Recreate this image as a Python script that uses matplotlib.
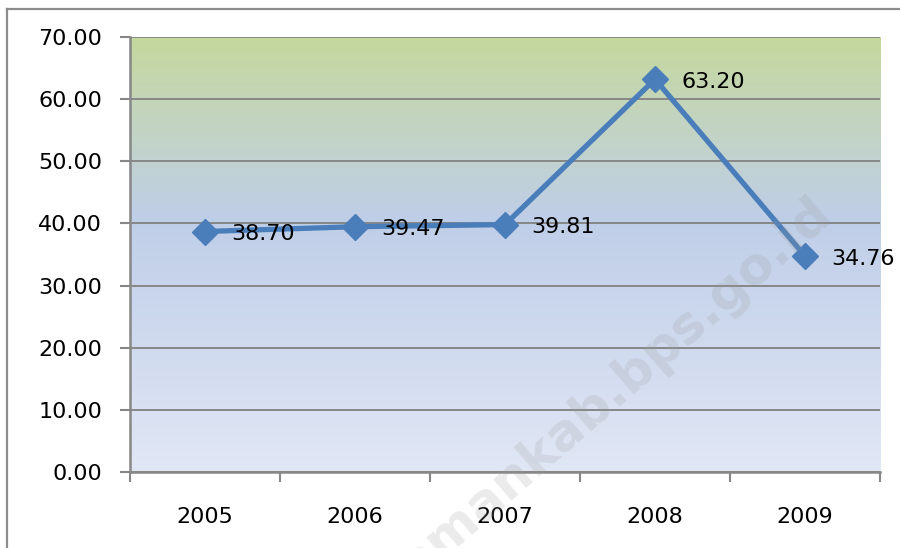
import numpy as np
import matplotlib.pyplot as plt
from matplotlib.colors import LinearSegmentedColormap
from matplotlib.lines import Line2D

years = ['2005', '2006', '2007', '2008', '2009']
values = [38.70, 39.47, 39.81, 63.20, 34.76]
labels = ['38.70', '39.47', '39.81', '63.20', '34.76']
y_ticks = [0, 10, 20, 30, 40, 50, 60, 70]

plt.rcParams['font.family'] = ['DejaVu Sans']

fig = plt.figure(figsize=(9, 5.48), dpi=100)
ax = fig.add_axes([130 / 900, 1 - 472 / 548, 750 / 900, 435 / 548])

# gradient background of the plot area
grad = LinearSegmentedColormap.from_list(
    'bg', [(0.0, '#e1e7f5'), (0.58, '#bfcee8'), (0.75, '#c2d3cb'), (1.0, '#c5d89d')])
ax.imshow(np.linspace(0, 1, 256).reshape(-1, 1), cmap=grad, aspect='auto',
          extent=[-0.5, 4.5, 0, 70], origin='lower', zorder=0)

x = np.arange(len(years))
ax.plot(x, values, color='#4a7ebb', lw=3.8, marker='D', markersize=13,
        markeredgecolor='#4a7ebb', zorder=3, clip_on=False)

for xi, v, lab in zip(x, values, labels):
    ax.annotate(lab, (xi, v), xytext=(19, -2), textcoords='offset points',
                ha='left', va='center', fontsize=16, color='black', zorder=4)

ax.set_xlim(-0.5, 4.5)
ax.set_ylim(0, 70)
ax.set_yticks(y_ticks)
ax.set_yticklabels([f'{t:.2f}' for t in y_ticks])
ax.set_xticks(x)
ax.set_xticklabels(years)
ax.set_xticks(np.arange(-0.5, 5, 1), minor=True)
ax.tick_params(axis='x', which='major', length=0, pad=25, labelsize=16)
ax.tick_params(axis='x', which='minor', length=7, width=1.5, color='#878787')
ax.tick_params(axis='y', length=7, width=1.5, color='#878787', labelsize=16, pad=13)

ax.grid(axis='y', color='#878787', lw=1.4)
ax.set_axisbelow(True)
for s in ['top', 'right']:
    ax.spines[s].set_visible(False)
for s in ['left', 'bottom']:
    ax.spines[s].set_color('#878787')
    ax.spines[s].set_linewidth(1.8)

# watermark
fig.text(598 / 900, 1 - 405 / 548, 'slemankab.bps.go.id', fontsize=37, fontweight='bold',
         color='#9a9a9a', alpha=0.2, rotation=41, ha='center', va='center', zorder=10)

# outer chart border (cropped at right and bottom)
fig.add_artist(Line2D([7 / 900, 7 / 900], [0, 1 - 9 / 548], color='#8c8c8c', lw=1.6))
fig.add_artist(Line2D([7 / 900, 1], [1 - 9 / 548, 1 - 9 / 548], color='#8c8c8c', lw=1.6))

fig.savefig('out.png', dpi=100)
